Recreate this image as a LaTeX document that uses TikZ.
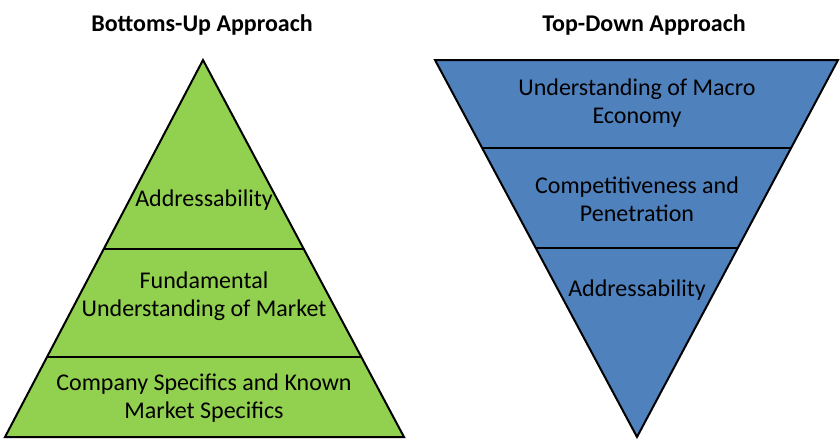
\documentclass[tikz,border=0pt]{standalone}
\usepackage{fontspec}
\setmainfont{Carlito}
\usetikzlibrary{calc}
\definecolor{pyrgreen}{HTML}{92D050}
\definecolor{pyrblue}{HTML}{4F81BD}
\tikzset{
	heading/.style={font=\fontsize{24}{28}\selectfont\bfseries},
	layer/.style={align=center, font=\fontsize{24}{28}\selectfont},
	outline/.style={draw=black, line width=2pt, line join=miter},
	divider/.style={draw=black, line width=1.5pt}
}
\begin{document}
\begin{tikzpicture}[x=1pt,y=-1pt]
		\useasboundingbox (0,0) rectangle (840,440);
		% Bottoms-up pyramid
		\coordinate (up top) at (203,60);
		\coordinate (up left) at (5,437);
		\coordinate (up right) at (404,437);
		\fill[pyrgreen] (up top) -- (up left) -- (up right) -- cycle;
		\draw[divider] ($(up top)!0.5013!(up left)$) -- ($(up top)!0.5013!(up right)$);
		\draw[divider] ($(up top)!0.7878!(up left)$) -- ($(up top)!0.7878!(up right)$);
		\draw[outline] (up top) -- (up left) -- (up right) -- cycle;
		
		% Top-down funnel
		\coordinate (down left) at (435,60);
		\coordinate (down right) at (838,60);
		\coordinate (down tip) at (637,437);
		\fill[pyrblue] (down left) -- (down right) -- (down tip) -- cycle;
		\draw[divider] ($(down left)!0.2334!(down tip)$) -- ($(down right)!0.2334!(down tip)$);
		\draw[divider] ($(down left)!0.4987!(down tip)$) -- ($(down right)!0.4987!(down tip)$);
		\draw[outline] (down left) -- (down right) -- (down tip) -- cycle;
		
		% titles
		\node[heading] (bottoms up) at (202,25) {Bottoms-Up Approach};
		\node[heading] (top down) at (644,25) {Top-Down Approach};
		
		% layer texts
		\node[layer] (up addr) at (204,200) {Addressability};
		\node[layer] (up market) at (204,296) {Fundamental\\Understanding of Market};
		\node[layer] (up company) at (204,398) {Company Specifics and Known\\Market Specifics};
		
		\node[layer] (down macro) at (637,103) {Understanding of Macro\\Economy};
		\node[layer] (down comp) at (637,199) {Competitiveness and\\Penetration};
		\node[layer] (down addr) at (637,290) {Addressability};
		
	\end{tikzpicture}
\end{document}
